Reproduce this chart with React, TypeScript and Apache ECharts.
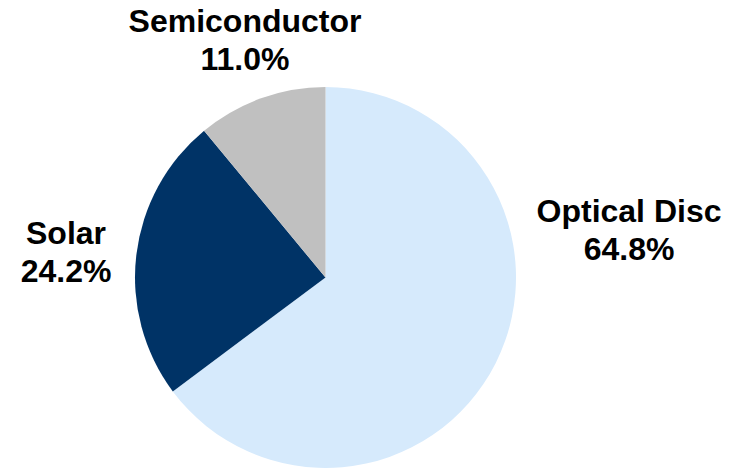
import React, { useEffect, useRef } from "react";
import * as echarts from "echarts";

const categories = ["Optical Disc", "Solar", "Semiconductor"];
const shares = [64.8, 24.2, 11.0];
const colors = ["#D6EAFC", "#003366", "#C0C0C0"];
const labelPos = [
  [629, 230],
  [66, 252],
  [245, 40],
];

export default function App() {
  const ref = useRef<HTMLDivElement>(null);
  useEffect(() => {
    document.body.style.margin = "0";
    const chart = echarts.init(ref.current!, null, { renderer: "svg" });
    chart.setOption({
      animation: false,
      backgroundColor: "#FFFFFF",
      series: [
        {
          type: "pie",
          center: [325.5, 277.5],
          radius: 190.5,
          startAngle: 90,
          clockwise: true,
          avoidLabelOverlap: false,
          data: categories.map((name, i) => ({
            name,
            value: shares[i],
            itemStyle: { color: colors[i] },
          })),
          label: {
            show: true,
            position: "outside",
            overflow: "none",
            formatter: (p: any) => `${p.name}\n${Number(p.value).toFixed(1)}%`,
            fontFamily: "Liberation Sans, Arial, sans-serif",
            fontWeight: "bold",
            fontSize: 32,
            lineHeight: 38,
            color: "#000000",
            align: "center",
          },
          labelLine: { show: false },
          labelLayout: (params: any) => ({
            x: labelPos[params.dataIndex][0],
            y: labelPos[params.dataIndex][1],
            align: "center",
            verticalAlign: "middle",
          }),
          emphasis: { disabled: true },
        },
      ],
    });
    return () => chart.dispose();
  }, []);
  return <div ref={ref} style={{ width: 744, height: 468 }} />;
}
